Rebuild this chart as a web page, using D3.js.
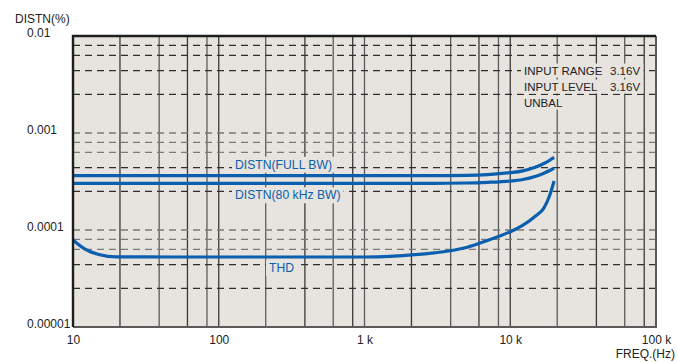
<!DOCTYPE html>
<html>
<head>
<meta charset="utf-8">
<script src="https://cdn.jsdelivr.net/npm/d3@7"></script>
<style>
  body { margin: 0; background: #fff; }
  text { font-family: "Liberation Sans", Arial, sans-serif; }
</style>
</head>
<body>
<svg id="chart" width="677" height="362"></svg>
<script>
// values
const freq = [10, 12, 15, 20, 50, 100, 200, 500, 1000, 1500, 2000, 3000, 5000, 7000, 10000, 12000, 15000, 17000, 18500, 20000]
const thd = [7.9e-5, 6.4e-5, 5.6e-5, 5.28e-5, 5.27e-5, 5.27e-5, 5.27e-5, 5.27e-5, 5.27e-5, 5.35e-5, 5.5e-5, 5.8e-5, 6.6e-5, 7.8e-5, 9.6e-5, 1.1e-4, 1.4e-4, 1.68e-4, 2.2e-4, 3.2e-4]
const distFull = [3.63e-4, 3.63e-4, 3.63e-4, 3.63e-4, 3.63e-4, 3.63e-4, 3.63e-4, 3.63e-4, 3.63e-4, 3.63e-4, 3.63e-4, 3.63e-4, 3.65e-4, 3.72e-4, 3.9e-4, 4.05e-4, 4.45e-4, 4.85e-4, 5.2e-4, 5.6e-4]
const dist80k = [3.03e-4, 3.03e-4, 3.03e-4, 3.03e-4, 3.03e-4, 3.03e-4, 3.03e-4, 3.03e-4, 3.03e-4, 3.03e-4, 3.03e-4, 3.03e-4, 3.05e-4, 3.1e-4, 3.2e-4, 3.3e-4, 3.58e-4, 3.85e-4, 4.08e-4, 4.35e-4]

const xTicks = [10, 100, 1000, 10000, 100000]
const xTickLabels = ['10', '100', '1 k', '10 k', '100 k']
const yTicks = [0.01, 0.001, 0.0001, 0.00001]
const yTickLabels = ['0.01', '0.001', '0.0001', '0.00001']

// grid lines inside each decade (as drawn on the sheet)
const xGridSteps = [2.1, 3.9, 6.1, 8.3]
const yGridSteps = [8, 6.3, 4.4, 2.5]

const noteRows = [['INPUT RANGE', '3.16V'], ['INPUT LEVEL', '3.16V'], ['UNBAL']]

const bg = '#e7e3de'
const blue = '#0a5fae'

const svg = d3.select('#chart')

const x = d3.scaleLog().domain([10, 100000]).range([73, 656])
const y = d3.scaleLog().domain([0.00001, 0.01]).range([327, 36])

svg.append('rect')
  .attr('x', x(10)).attr('y', y(0.01))
  .attr('width', x(100000) - x(10)).attr('height', y(0.00001) - y(0.01))
  .attr('fill', bg)

// vertical grid
const xGrid = []
for (const d of [10, 100, 1000, 10000]) {
  for (const s of xGridSteps) xGrid.push(d * s)
  if (d < 10000) xGrid.push(d * 10)
}
svg.append('g').selectAll('line')
  .data(xGrid)
  .enter().append('line')
  .attr('x1', d => x(d)).attr('x2', d => x(d))
  .attr('y1', y(0.01)).attr('y2', y(0.00001))
  .attr('stroke', (d, i) => i % 2 ? '#5c5c5c' : '#3a3a3a')
  .attr('stroke-width', 1.3)

// horizontal dashed grid
const yGrid = []
for (const d of [0.001, 0.0001, 0.00001]) {
  for (const s of yGridSteps) yGrid.push({ v: d * s, dark: s < 5 || d === 0.001 })
  if (d > 0.00001) yGrid.push({ v: d, dark: false })
}
svg.append('g').selectAll('line')
  .data(yGrid)
  .enter().append('line')
  .attr('x1', x(10)).attr('x2', x(100000))
  .attr('y1', d => y(d.v)).attr('y2', d => y(d.v))
  .attr('stroke', d => d.dark ? '#2e2e2e' : '#7a7a7a')
  .attr('stroke-width', 1.3)
  .attr('stroke-dasharray', '7,5')

// a row of texts with one patch of background behind it
function label(g, xs, ty, strs, color, size) {
  const row = g.append('g')
  strs.forEach((str, i) => {
    row.append('text')
      .attr('x', xs[i]).attr('y', ty)
      .attr('font-size', size)
      .attr('fill', color)
      .text(str)
  })
  const b = row.node().getBBox()
  row.insert('rect', 'text')
    .attr('x', b.x - 3).attr('y', b.y - 1)
    .attr('width', b.width + 6).attr('height', b.height + 2)
    .attr('fill', bg)
}

const notes = svg.append('g')
noteRows.forEach((r, i) => label(notes, [524, 610], 74.5 + i * 16, r, '#222', 11.5))

const series = [
  { name: 'DISTN(FULL BW)', values: distFull, lx: 235, dy: -7 },
  { name: 'DISTN(80 kHz BW)', values: dist80k, lx: 235, dy: 16 },
  { name: 'THD', values: thd, lx: 269, dy: 15 }
]

const line = d3.line()
  .x((d, i) => x(freq[i]))
  .y(d => y(d))
  .curve(d3.curveMonotoneX)

const lbl = svg.append('g')
series.forEach(s => {
  label(lbl, [s.lx], y(s.values[5]) + s.dy, [s.name], blue, 12.2)
})

svg.append('g').selectAll('path')
  .data(series)
  .enter().append('path')
  .attr('d', d => line(d.values))
  .attr('fill', 'none')
  .attr('stroke', blue)
  .attr('stroke-width', 3.2)

// frame
svg.append('path')
  .attr('d', `M${x(100000)},${y(0.01)}V${y(0.00001)}H${x(10)}`)
  .attr('fill', 'none').attr('stroke', '#5a5a5a').attr('stroke-width', 2)
svg.append('path')
  .attr('d', `M${x(10)},${y(0.00001)}V${y(0.01)}H${x(100000)}`)
  .attr('fill', 'none').attr('stroke', '#1e1e1e').attr('stroke-width', 2.4)

// axes
const gx = svg.append('g')
  .attr('transform', `translate(0,${y(0.00001)})`)
  .call(d3.axisBottom(x).tickValues(xTicks).tickFormat((d, i) => xTickLabels[i]).tickSize(0))
gx.select('.domain').remove()
gx.selectAll('text')
  .attr('y', 8)
  .attr('font-size', 12)
  .attr('font-family', '"Liberation Sans", Arial, sans-serif')
  .attr('fill', '#222')

const gy = svg.append('g')
  .attr('transform', `translate(${x(10)},0)`)
  .call(d3.axisLeft(y).tickValues(yTicks).tickFormat((d, i) => yTickLabels[i]).tickSize(0))
gy.select('.domain').remove()
gy.selectAll('text')
  .attr('x', 27 - x(10))
  .attr('y', -3)
  .attr('text-anchor', 'start')
  .attr('font-size', 12)
  .attr('font-family', '"Liberation Sans", Arial, sans-serif')
  .attr('fill', '#222')

svg.append('text')
  .attr('x', 15).attr('y', 22.5)
  .attr('font-size', 12).attr('fill', '#222')
  .text('DISTN(%)')

svg.append('text')
  .attr('x', 675).attr('y', 358)
  .attr('text-anchor', 'end')
  .attr('font-size', 12).attr('fill', '#222')
  .text('FREQ.(Hz)')
</script>
</body>
</html>
